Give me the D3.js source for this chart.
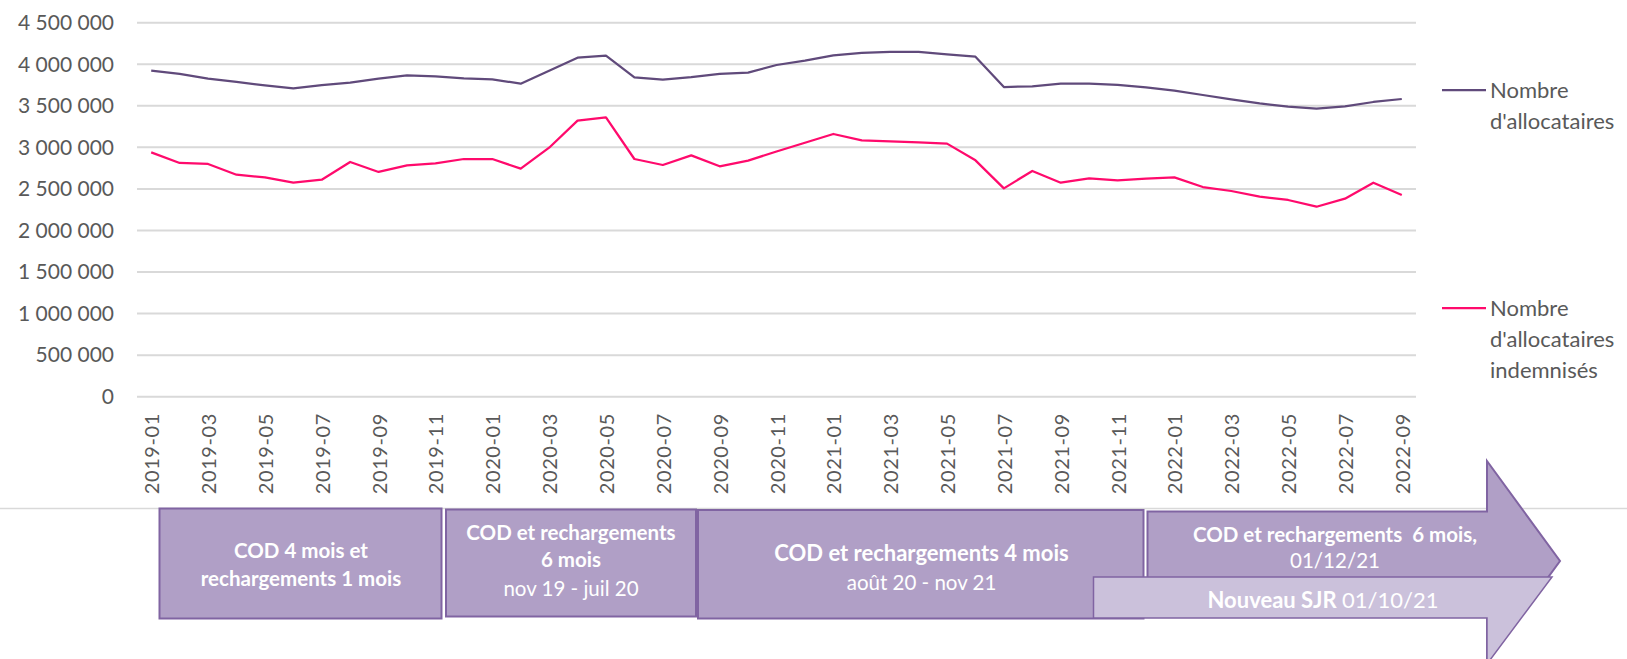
<!DOCTYPE html>
<html>
<head>
<meta charset="utf-8">
<script src="https://cdn.jsdelivr.net/npm/d3@7"></script>
<style>
  html, body { margin: 0; padding: 0; background: #ffffff; }
  svg { display: block; font-family: Lato, "Open Sans", sans-serif; }
  .grid line { stroke: #d9d9d9; stroke-width: 2; }
  .ylab, .xlab, .legend text { fill: #595959; }
  .box-title { fill: #ffffff; font-weight: bold; }
  .box-sub { fill: #ffffff; }
</style>
</head>
<body>
<svg id="chart" width="1627" height="659"></svg>
<script>
// --- données ---
const months = [
  "2019-01","2019-02","2019-03","2019-04","2019-05","2019-06","2019-07","2019-08","2019-09","2019-10","2019-11","2019-12",
  "2020-01","2020-02","2020-03","2020-04","2020-05","2020-06","2020-07","2020-08","2020-09","2020-10","2020-11","2020-12",
  "2021-01","2021-02","2021-03","2021-04","2021-05","2021-06","2021-07","2021-08","2021-09","2021-10","2021-11","2021-12",
  "2022-01","2022-02","2022-03","2022-04","2022-05","2022-06","2022-07","2022-08","2022-09"
];

const allocataires = [
  3923000, 3883000, 3827000, 3787000, 3746000, 3710000, 3750000, 3779000, 3827000, 3867000, 3855000, 3831000,
  3819000, 3766000, 3923000, 4079000, 4103000, 3843000, 3815000, 3845000, 3883000, 3899000, 3991000, 4043000,
  4107000, 4136000, 4148000, 4148000, 4119000, 4091000, 3726000, 3735000, 3767000, 3767000, 3751000, 3723000,
  3682000, 3630000, 3578000, 3530000, 3490000, 3466000, 3494000, 3546000, 3582000
];

const indemnises = [
  2940000, 2812000, 2800000, 2671000, 2639000, 2575000, 2611000, 2824000, 2704000, 2784000, 2808000, 2860000,
  2860000, 2744000, 2996000, 3321000, 3361000, 2860000, 2788000, 2904000, 2772000, 2840000, 2950000, 3055000,
  3161000, 3085000, 3073000, 3061000, 3045000, 2844000, 2507000, 2716000, 2575000, 2627000, 2603000, 2623000,
  2639000, 2523000, 2475000, 2407000, 2367000, 2286000, 2383000, 2575000, 2427000
];

const yTicks = [0, 500000, 1000000, 1500000, 2000000, 2500000, 3000000, 3500000, 4000000, 4500000];

const seriesNames = [
  ["Nombre", "d'allocataires"],
  ["Nombre", "d'allocataires", "indemnisés"]
];

// textes des périodes (frise du bas)
const periodTitles = [
  ["COD 4 mois et", "rechargements 1 mois"],
  ["COD et rechargements", "6 mois"],
  ["COD et rechargements 4 mois"],
  ["COD et rechargements  6 mois,"]
];
const periodDates = ["", "nov 19 - juil 20", "août 20 - nov 21", "01/12/21"];
const sjrLabel = ["Nouveau SJR", "01/10/21"];

// --- mise en page ---
const svg = d3.select("#chart");
const W = 1627;
const plot = { left: 137, right: 1416, top: 22.7, bottom: 396.7 };
const colors = { allocataires: "#604a7b", indemnises: "#ff0a6c" };

const x = d3.scalePoint()
  .domain(months)
  .range([plot.left, plot.right])
  .padding(0.5);

const y = d3.scaleLinear()
  .domain([0, 4500000])
  .range([plot.bottom, plot.top]);

const fr = d3.formatLocale({ decimal: ",", thousands: "\u00a0", grouping: [3], currency: ["", " €"] });
const fmt = fr.format(",d");

// grille
svg.append("g")
  .attr("class", "grid")
  .selectAll("line")
  .data(yTicks)
  .join("line")
  .attr("x1", plot.left)
  .attr("x2", plot.right)
  .attr("y1", d => y(d))
  .attr("y2", d => y(d));

// axe Y
svg.append("g")
  .selectAll("text")
  .data(yTicks)
  .join("text")
  .attr("class", "ylab")
  .attr("x", 114)
  .attr("y", d => y(d))
  .attr("dy", "0.35em")
  .attr("text-anchor", "end")
  .style("font-size", "21px")
  .text(d => fmt(d));

// axe X (un mois sur deux)
svg.append("g")
  .selectAll("text")
  .data(months.filter((m, i) => i % 2 === 0))
  .join("text")
  .attr("class", "xlab")
  .attr("transform", d => `translate(${x(d) + 1},413) rotate(-90)`)
  .attr("text-anchor", "end")
  .attr("dy", "0.35em")
  .style("font-size", "20px")
  .style("letter-spacing", "0.6px")
  .text(d => d);

// courbes
const line = d3.line()
  .x((d, i) => x(months[i]))
  .y(d => y(d));

svg.append("path")
  .datum(allocataires)
  .attr("fill", "none")
  .attr("stroke", colors.allocataires)
  .attr("stroke-width", 2.25)
  .attr("stroke-linejoin", "round")
  .attr("d", line);

svg.append("path")
  .datum(indemnises)
  .attr("fill", "none")
  .attr("stroke", colors.indemnises)
  .attr("stroke-width", 2.25)
  .attr("stroke-linejoin", "round")
  .attr("d", line);

// légende
const legendItems = [
  { color: colors.allocataires, y: 90, lines: seriesNames[0] },
  { color: colors.indemnises, y: 308, lines: seriesNames[1] }
];
const legend = svg.append("g").attr("class", "legend");
legendItems.forEach(item => {
  legend.append("line")
    .attr("x1", 1442).attr("x2", 1486)
    .attr("y1", item.y).attr("y2", item.y)
    .attr("stroke", item.color)
    .attr("stroke-width", 2.25);
  legend.append("text")
    .attr("x", 1490)
    .attr("y", item.y)
    .style("font-size", "22px")
    .selectAll("tspan")
    .data(item.lines)
    .join("tspan")
    .attr("x", 1490)
    .attr("y", (d, i) => item.y + i * 31)
    .attr("dy", "0.35em")
    .text(d => d);
});

// --- frise des réglementations ---
const fillDark = "#b09fc6";
const fillLight = "#cbc1db";
const strokeCol = "#8064a2";

svg.append("line")
  .attr("x1", 0).attr("x2", W)
  .attr("y1", 508.5).attr("y2", 508.5)
  .attr("stroke", "#d9d9d9")
  .attr("stroke-width", 1.5);

const boxes = [
  { x0: 159.5, x1: 441.5, y0: 508.5, y1: 618.5 },
  { x0: 446, x1: 696, y0: 509.5, y1: 616.5 },
  { x0: 698, x1: 1143.5, y0: 510, y1: 618.5 }
];
boxes.forEach(b => {
  svg.append("rect")
    .attr("x", b.x0).attr("y", b.y0)
    .attr("width", b.x1 - b.x0).attr("height", b.y1 - b.y0)
    .attr("fill", fillDark)
    .attr("stroke", strokeCol)
    .attr("stroke-width", 2);
});

// flèche foncée
const darkArrow = [[1147.5, 511.5], [1487, 511.5], [1487, 461], [1560, 561], [1487, 661], [1487, 611], [1147.5, 611]];
svg.append("path")
  .attr("d", d3.line()(darkArrow) + "Z")
  .attr("fill", fillDark)
  .attr("stroke", strokeCol)
  .attr("stroke-width", 2);

// flèche claire (nouveau SJR)
const lightArrow = [[1093.5, 577], [1552, 577], [1487, 664], [1487, 618], [1093.5, 618]];
svg.append("path")
  .attr("d", d3.line()(lightArrow) + "Z")
  .attr("fill", fillLight)
  .attr("stroke", strokeCol)
  .attr("stroke-width", 1.5);

// textes
const textSpecs = [
  { cx: 301, ys: [551, 578.5], size: 20.5, dateY: null },
  { cx: 571, ys: [533, 560], size: 20.5, dateY: 588.5 },
  { cx: 921.5, ys: [553.5], size: 22, dateY: 583 },
  { cx: 1335, ys: [535], size: 20.5, dateY: 560.5 }
];
textSpecs.forEach((s, k) => {
  periodTitles[k].forEach((t, j) => {
    svg.append("text")
      .attr("class", "box-title")
      .attr("x", s.cx).attr("y", s.ys[j])
      .attr("dy", "0.35em")
      .attr("text-anchor", "middle")
      .style("font-size", s.size + "px")
      .style("white-space", "pre")
      .text(t);
  });
  if (s.dateY !== null) {
    svg.append("text")
      .attr("class", "box-sub")
      .attr("x", s.cx).attr("y", s.dateY)
      .attr("dy", "0.35em")
      .attr("text-anchor", "middle")
      .style("font-size", "20.5px")
      .text(periodDates[k]);
  }
});

const sjr = svg.append("text")
  .attr("x", 1323).attr("y", 600)
  .attr("dy", "0.35em")
  .attr("text-anchor", "middle")
  .style("font-size", "22px")
  .attr("fill", "#ffffff");
sjr.append("tspan").style("font-weight", "bold").text(sjrLabel[0] + " ");
sjr.append("tspan").text(sjrLabel[1]);
</script>
</body>
</html>
